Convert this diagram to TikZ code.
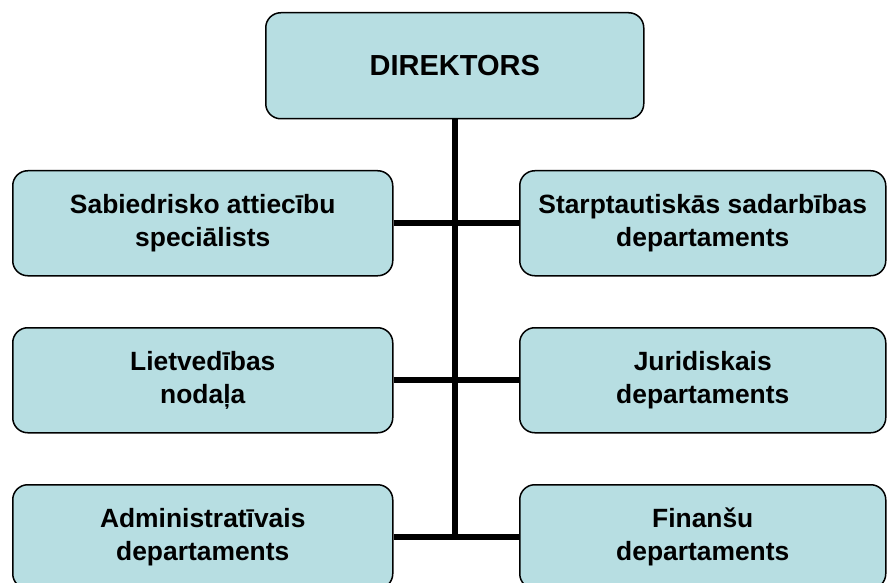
\documentclass[tikz,border=0pt]{standalone}
\usepackage{fontspec}
\setmainfont{Liberation Sans}
\definecolor{boxfill}{RGB}{183,222,226}
\begin{document}
\begin{tikzpicture}[x=1pt,y=-1pt,
  orgbox/.style={draw=black, line width=1.5pt, fill=boxfill, rounded corners=15pt,
    inner sep=0pt, anchor=north west, align=center,
    font=\fontsize{26.4}{33}\selectfont\bfseries},
  link/.style={line width=6pt, draw=black}]
\clip (0,0) rectangle (887,583);
\useasboundingbox (0,0) rectangle (887,583);
\coordinate (bot) at (454.5,539);
\node[orgbox, minimum width=378pt, minimum height=106pt, font=\fontsize{29}{33}\selectfont\bfseries] (dir) at (265,12) {DIREKTORS};
\node[orgbox, minimum width=380pt, minimum height=105pt] (l1) at (12,170) {Sabiedrisko attiecību\\speciālists};
\node[orgbox, minimum width=366pt, minimum height=105pt] (r1) at (519,170) {Starptautiskās sadarbības\\departaments};
\node[orgbox, minimum width=380pt, minimum height=105pt] (l2) at (12,327) {Lietvedības\\nodaļa};
\node[orgbox, minimum width=366pt, minimum height=105pt] (r2) at (519,327) {Juridiskais\\departaments};
\node[orgbox, minimum width=380pt, minimum height=104pt] (l3) at (12,484) {Administratīvais\\departaments};
\node[orgbox, minimum width=366pt, minimum height=104pt] (r3) at (519,484) {Finanšu\\departaments};
\draw[link] (dir.south) -- (dir.south |- bot);
\draw[link] (l1.east) -- (r1.west);
\draw[link] (l2.east) -- (r2.west);
\draw[link] (l3.east) -- (r3.west);
\end{tikzpicture}
\end{document}
